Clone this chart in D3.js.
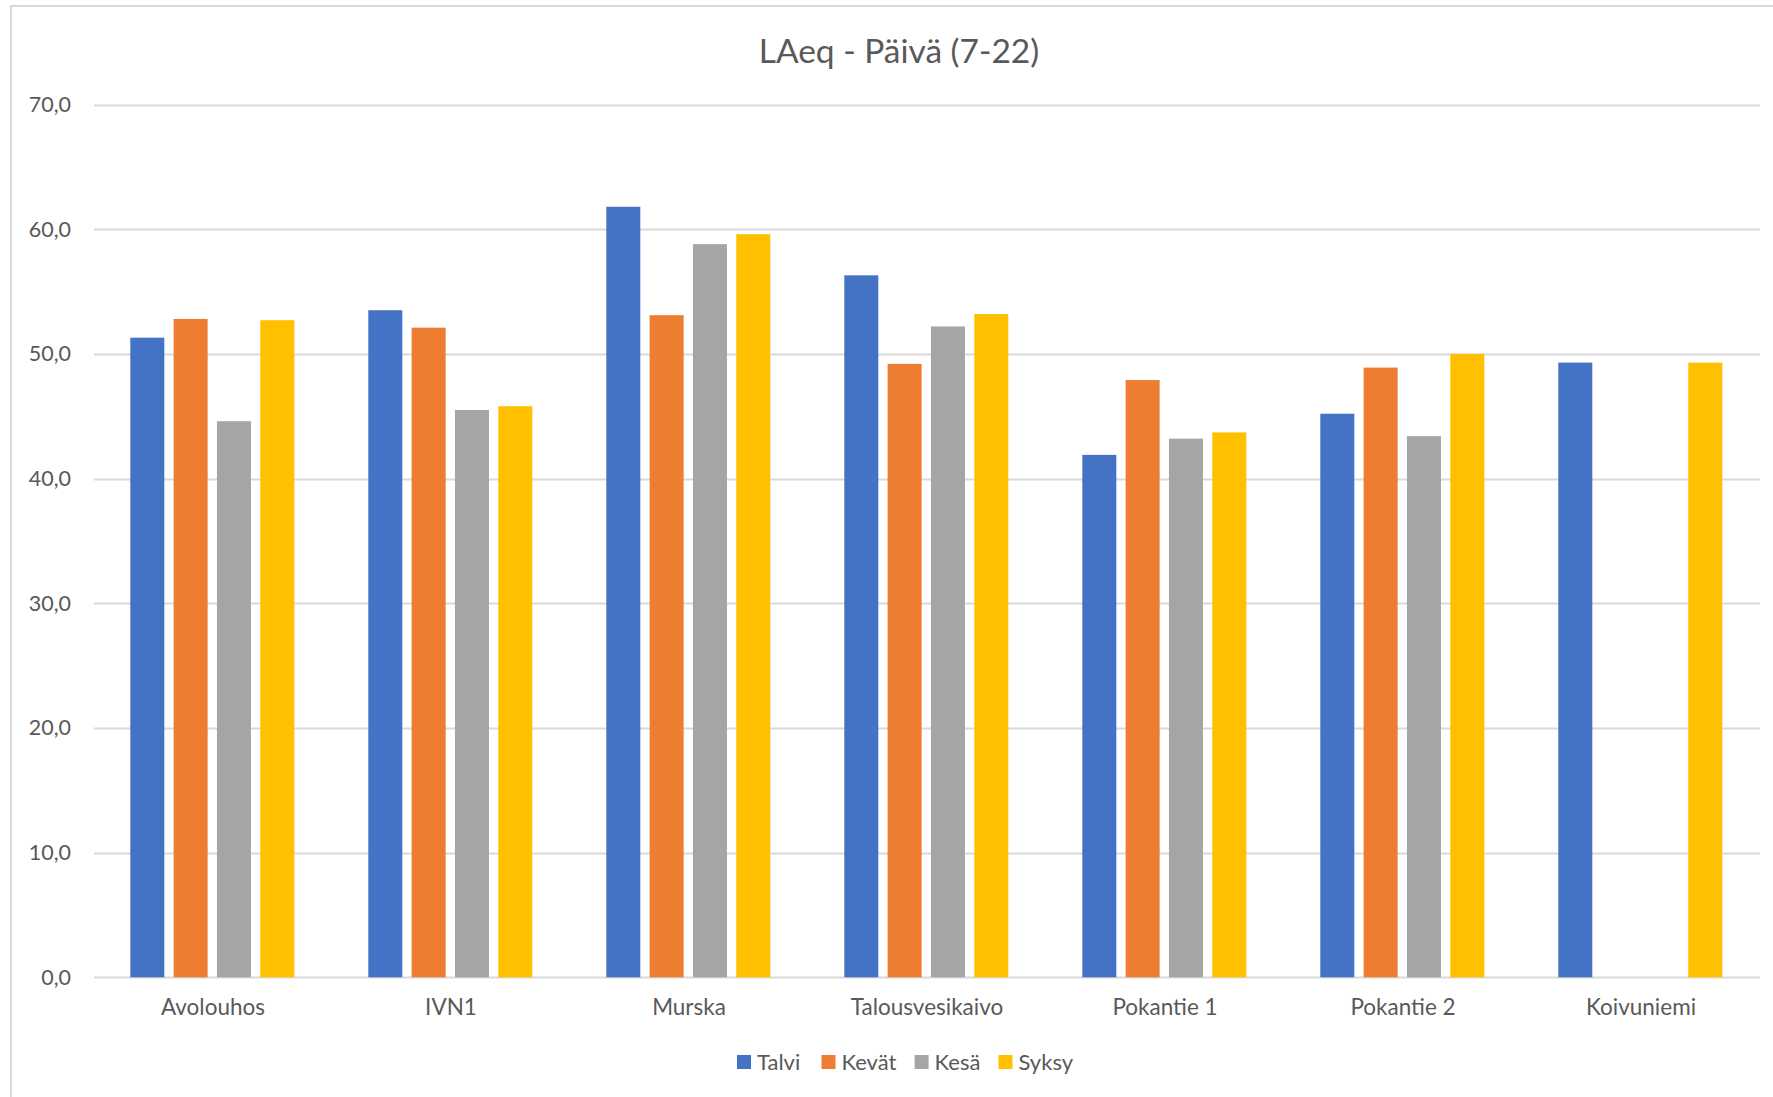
<!DOCTYPE html>
<html>
<head>
<meta charset="utf-8">
<script src="https://cdn.jsdelivr.net/npm/d3@7"></script>
<style>
  html, body { margin: 0; padding: 0; background: #ffffff; }
  svg { display: block; }
  text { font-family: Lato, "Open Sans", sans-serif; fill: #595959; }
</style>
</head>
<body>
<svg id="chart" width="1773" height="1097"></svg>
<script>
// Measurement sites
const categories = ["Avolouhos", "IVN1", "Murska", "Talousvesikaivo", "Pokantie 1", "Pokantie 2", "Koivuniemi"];
// Seasons (series names)
const seriesNames = ["Talvi", "Kevät", "Kesä", "Syksy"];
// LAeq values per season, dB (null = no measurement)
const talvi = [51.3, 53.5, 61.8, 56.3, 41.9, 45.2, 49.3];
const kevat = [52.8, 52.1, 53.1, 49.2, 47.9, 48.9, null];
const kesa  = [44.6, 45.5, 58.8, 52.2, 43.2, 43.4, null];
const syksy = [52.7, 45.8, 59.6, 53.2, 43.7, 50.0, 49.3];
const seriesColors = ["#4472C4", "#ED7D31", "#A5A5A5", "#FFC000"];
// Y axis ticks
const yTicks = [0, 10, 20, 30, 40, 50, 60, 70];
const title = "LAeq - Päivä (7-22)";

const seriesValues = [talvi, kevat, kesa, syksy];
const svg = d3.select("#chart");

// Outer chart frame
svg.append("rect")
  .attr("x", 11).attr("y", 6)
  .attr("width", 1790).attr("height", 1120)
  .attr("fill", "none")
  .attr("stroke", "#d9d9d9")
  .attr("stroke-width", 2);

const plot = { left: 94, right: 1760, top: 104.5, bottom: 977.3 };

const y = d3.scaleLinear().domain([0, 70]).range([plot.bottom, plot.top]);
const x0 = d3.scaleBand().domain(categories).range([plot.left, plot.right]).padding(0);
const bandW = x0.bandwidth();
const x1 = d3.scaleBand().domain(seriesNames)
  .range([36.3, 200.3])
  .paddingInner(0.215).paddingOuter(0);

// Gridlines
svg.append("g")
  .selectAll("line")
  .data(yTicks)
  .join("line")
  .attr("x1", plot.left).attr("x2", plot.right)
  .attr("y1", d => Math.round(y(d)) + 0.5)
  .attr("y2", d => Math.round(y(d)) + 0.5)
  .attr("stroke", "#d9d9d9")
  .attr("stroke-width", 2);

// Y tick labels
svg.append("g")
  .selectAll("text")
  .data(yTicks)
  .join("text")
  .attr("x", 71)
  .attr("y", d => y(d))
  .attr("dy", "0.35em")
  .attr("text-anchor", "end")
  .style("font-size", "21.5px")
  .text(d => d3.format(".1f")(d).replace(".", ","));

// Bars
const groups = svg.append("g")
  .selectAll("g")
  .data(categories)
  .join("g")
  .attr("transform", d => `translate(${x0(d)},0)`);

groups.selectAll("rect")
  .data((c, i) => seriesNames.map((s, k) => ({ s, v: seriesValues[k][i], color: seriesColors[k] })).filter(d => d.v != null))
  .join("rect")
  .attr("x", d => x1(d.s))
  .attr("width", x1.bandwidth())
  .attr("y", d => y(d.v))
  .attr("height", d => y(0) - y(d.v))
  .attr("fill", d => d.color);

// Category labels
svg.append("g")
  .selectAll("text")
  .data(categories)
  .join("text")
  .attr("x", d => x0(d) + bandW / 2)
  .attr("y", 1015)
  .attr("text-anchor", "middle")
  .style("font-size", "22.5px")
  .text(d => d);

// Title
svg.append("text")
  .attr("x", 899)
  .attr("y", 63)
  .attr("text-anchor", "middle")
  .style("font-size", "33.5px")
  .text(title);

// Legend
const legendX = [737, 821.5, 914.6, 998.5];
const legend = svg.append("g")
  .selectAll("g")
  .data(seriesNames)
  .join("g")
  .attr("transform", (d, i) => `translate(${legendX[i]},1055)`);
legend.append("rect")
  .attr("width", 14).attr("height", 14)
  .attr("fill", (d, i) => seriesColors[i]);
legend.append("text")
  .attr("x", 20).attr("y", 7)
  .attr("dy", "0.36em")
  .style("font-size", "22px")
  .text(d => d);
</script>
</body>
</html>
